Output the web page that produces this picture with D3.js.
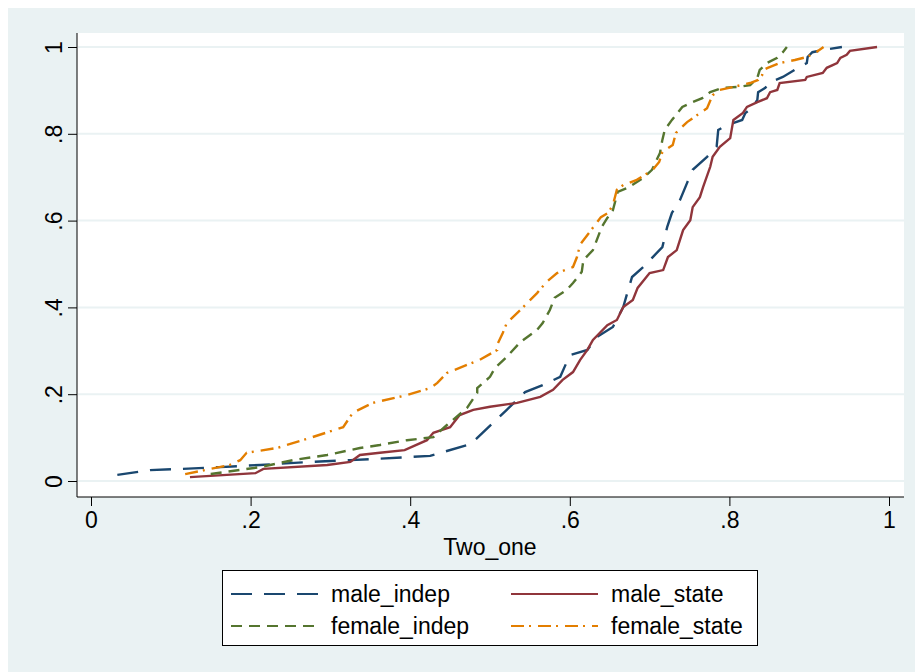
<!DOCTYPE html>
<html>
<head>
<meta charset="utf-8">
<script src="https://cdn.jsdelivr.net/npm/d3@7"></script>
<style>
  body { margin: 0; background: #fff; }
  text { font-family: "Liberation Sans", Arial, sans-serif; fill: #000; }
</style>
</head>
<body>
<div id="chart"></div>
<script>
// cumulative distribution of Two_one, by group
var maleIndep = [[.033,.014],[.074,.025],[.115,.028],[.162,.032],[.212,.037],[.274,.044],[.325,.048],[.358,.051],
  [.425,.058],[.476,.085],[.485,.101],[.505,.136],[.521,.164],[.544,.205],[.566,.221],[.588,.240],[.600,.290],
  [.622,.302],[.634,.332],[.654,.355],[.667,.401],[.672,.433],[.678,.470],[.692,.493],[.704,.516],[.716,.539],
  [.722,.585],[.728,.618],[.738,.647],[.747,.687],[.754,.717],[.772,.747],[.784,.770],[.786,.809],[.797,.820],
  [.816,.832],[.820,.848],[.828,.859],[.835,.878],[.836,.896],[.845,.906],[.851,.919],[.867,.931],[.886,.952],
  [.897,.963],[.898,.977],[.904,.988],[.917,.993],[.941,1.0]];

var maleState = [[.124,.009],[.206,.018],[.216,.028],[.296,.037],[.325,.044],[.337,.060],[.362,.065],[.393,.071],
  [.421,.094],[.429,.111],[.450,.124],[.462,.152],[.479,.164],[.500,.171],[.534,.180],[.563,.194],[.579,.210],
  [.591,.233],[.604,.251],[.613,.279],[.622,.302],[.629,.325],[.647,.359],[.659,.371],[.667,.401],[.679,.417],
  [.685,.445],[.700,.479],[.717,.486],[.723,.516],[.734,.532],[.742,.578],[.751,.601],[.754,.631],[.763,.654],
  [.767,.677],[.776,.724],[.779,.747],[.788,.770],[.801,.790],[.805,.832],[.817,.848],[.822,.862],[.835,.873],
  [.847,.882],[.851,.896],[.860,.901],[.863,.917],[.895,.924],[.897,.931],[.917,.940],[.922,.952],[.935,.963],
  [.939,.975],[.947,.982],[.951,.991],[.985,1.0]];

var femaleIndep = [[.150,.016],[.212,.032],[.253,.048],[.296,.060],[.337,.076],[.362,.083],[.396,.094],[.429,.101],
  [.446,.129],[.471,.168],[.484,.203],[.484,.214],[.500,.240],[.506,.260],[.521,.286],[.538,.320],[.559,.348],
  [.566,.364],[.575,.394],[.581,.422],[.596,.440],[.604,.456],[.615,.482],[.617,.509],[.629,.532],[.640,.585],
  [.647,.606],[.654,.624],[.660,.666],[.672,.675],[.692,.698],[.703,.717],[.713,.756],[.716,.786],[.719,.809],
  [.728,.832],[.741,.862],[.754,.873],[.766,.882],[.776,.896],[.784,.901],[.792,.906],[.811,.908],[.826,.912],
  [.835,.929],[.838,.947],[.847,.963],[.860,.975],[.867,.988],[.872,1.0]];

var femaleState = [[.118,.016],[.174,.037],[.187,.048],[.195,.065],[.233,.076],[.274,.099],[.316,.124],[.328,.157],
  [.353,.180],[.396,.198],[.425,.214],[.434,.226],[.446,.249],[.487,.279],[.509,.302],[.510,.318],[.516,.341],
  [.521,.364],[.538,.394],[.559,.433],[.571,.459],[.584,.479],[.604,.493],[.609,.516],[.613,.545],[.639,.608],
  [.648,.618],[.654,.636],[.659,.671],[.667,.682],[.684,.694],[.704,.717],[.712,.735],[.716,.758],[.729,.774],
  [.733,.802],[.743,.820],[.747,.827],[.754,.836],[.772,.859],[.779,.889],[.788,.901],[.805,.908],[.826,.917],
  [.836,.924],[.841,.935],[.842,.947],[.848,.952],[.863,.963],[.882,.970],[.897,.977],[.907,.986],[.918,1.0]];

var seriesNames = ['male_indep', 'male_state', 'female_indep', 'female_state'];
var xTicks = [0, .2, .4, .6, .8, 1];
var yTicks = [0, .2, .4, .6, .8, 1];

var series = [
  {name: seriesNames[0], values: maleIndep,   color: '#1a476f', dash: '21,12'},
  {name: seriesNames[1], values: maleState,   color: '#90353b', dash: null},
  {name: seriesNames[2], values: femaleIndep, color: '#55752f', dash: '11,7'},
  {name: seriesNames[3], values: femaleState, color: '#e37e00', dash: '13,5,2,7'}
];

var W = 915, H = 672;
var plot = {left: 77, right: 904, top: 33, bottom: 497};

var svg = d3.select('#chart').append('svg')
    .attr('width', W)
    .attr('height', H);

svg.append('rect')
    .attr('x', 8).attr('y', 8)
    .attr('width', W - 8).attr('height', H - 8)
    .attr('fill', '#eaf2f3');

svg.append('rect')
    .attr('x', plot.left).attr('y', plot.top)
    .attr('width', plot.right - plot.left).attr('height', plot.bottom - plot.top)
    .attr('fill', '#fff');

var xScale = d3.scaleLinear().domain([0, 1]).range([91, 889]);
var yScale = d3.scaleLinear().domain([0, 1]).range([481, 47]);

var fmt = function(d) { return d === 0 ? '0' : d === 1 ? '1' : d3.format('.1f')(d).replace(/^0/, ''); };

// grid lines
svg.selectAll('.grid')
    .data(yTicks)
  .enter().append('line')
    .attr('class', 'grid')
    .attr('x1', plot.left + 1).attr('x2', plot.right)
    .attr('y1', function(d) { return yScale(d); })
    .attr('y2', function(d) { return yScale(d); })
    .attr('stroke', '#eaf2f3')
    .attr('stroke-width', 2);

// axes
var yAxis = svg.append('g')
    .attr('transform', 'translate(' + plot.left + ',0)')
    .call(d3.axisLeft(yScale).tickValues(yTicks).tickFormat(fmt).tickSize(9).tickPadding(0));
yAxis.select('.domain').attr('d', 'M0,' + plot.top + 'V' + plot.bottom).attr('stroke', '#000');
yAxis.selectAll('.tick line').attr('stroke', '#000');
yAxis.selectAll('.tick text')
    .attr('x', null).attr('dy', null)
    .attr('transform', 'translate(-21,0) rotate(-90)')
    .attr('text-anchor', 'middle')
    .attr('dominant-baseline', 'middle')
    .style('font-size', '23px')
    .style('font-family', '"Liberation Sans", Arial, sans-serif');

var xAxis = svg.append('g')
    .attr('transform', 'translate(0,' + plot.bottom + ')')
    .call(d3.axisBottom(xScale).tickValues(xTicks).tickFormat(fmt).tickSize(9).tickPadding(6));
xAxis.select('.domain').attr('d', 'M' + plot.left + ',0H' + plot.right).attr('stroke', '#000');
xAxis.selectAll('.tick line').attr('stroke', '#000');
xAxis.selectAll('.tick text')
    .style('font-size', '23px')
    .style('font-family', '"Liberation Sans", Arial, sans-serif');

svg.append('text')
    .attr('x', xScale(0.5)).attr('y', 555)
    .attr('text-anchor', 'middle')
    .style('font-size', '23px')
    .text('Two_one');

// lines
var line = d3.line()
    .x(function(d) { return xScale(d[0]); })
    .y(function(d) { return yScale(d[1]); });

svg.selectAll('.series')
    .data(series)
  .enter().append('path')
    .attr('class', 'series')
    .attr('d', function(d) { return line(d.values); })
    .attr('fill', 'none')
    .attr('stroke', function(d) { return d.color; })
    .attr('stroke-width', 2.4)
    .attr('stroke-dasharray', function(d) { return d.dash; });

// legend
var legend = svg.append('g');
legend.append('rect')
    .attr('x', 222.5).attr('y', 570.5)
    .attr('width', 535).attr('height', 75)
    .attr('fill', '#fff')
    .attr('stroke', '#000')
    .attr('stroke-width', 1);

var items = legend.selectAll('.item')
    .data(series)
  .enter().append('g')
    .attr('class', 'item')
    .attr('transform', function(d, i) {
      return 'translate(' + (i % 2 === 0 ? 231 : 511) + ',' + (i < 2 ? 594 : 626) + ')';
    });

items.append('line')
    .attr('x1', 0).attr('x2', 87)
    .attr('stroke', function(d) { return d.color; })
    .attr('stroke-width', 2)
    .attr('stroke-dasharray', function(d) { return d.dash; });

items.append('text')
    .attr('x', 100).attr('y', 8)
    .style('font-size', '23px')
    .text(function(d) { return d.name; });
</script>
</body>
</html>
